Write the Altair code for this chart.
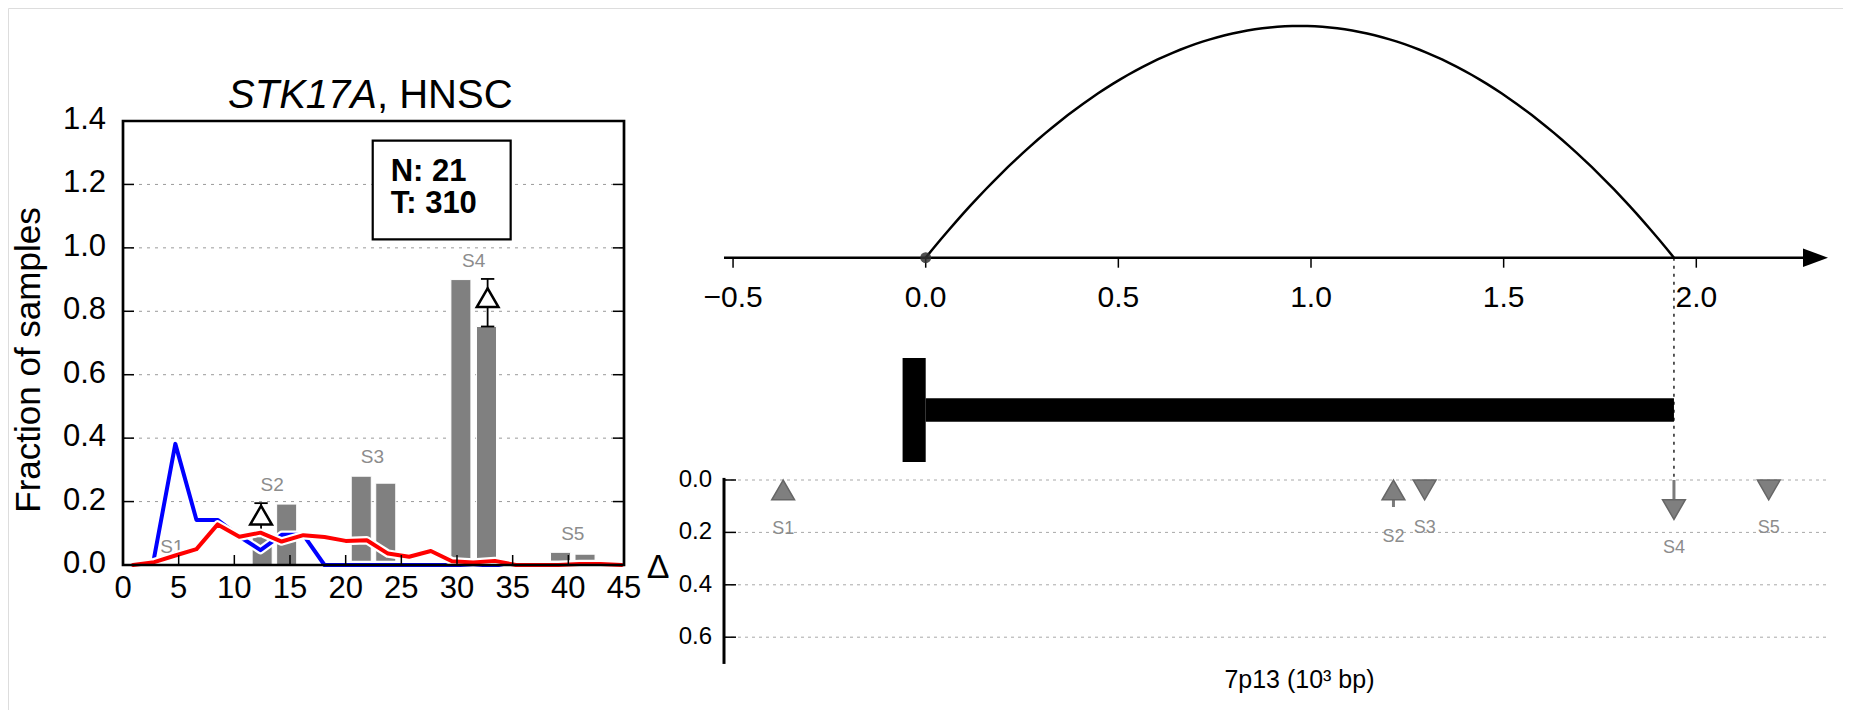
import altair as alt
import pandas as pd

FONT = "Liberation Sans"

# ---------------- left panel: STK17A, HNSC ----------------
LINE_X = [0.9, 2.8, 4.7, 6.6, 8.5, 10.45, 12.35, 14.25, 16.2, 18.1, 20.0, 21.9,
          23.8, 25.7, 27.65, 29.55, 31.45, 33.4, 35.3, 37.2, 39.1, 41.0, 42.9, 44.8]
RED_Y = [0.0, 0.009, 0.03, 0.05, 0.128, 0.089, 0.102, 0.074, 0.094, 0.088, 0.076, 0.078,
         0.036, 0.026, 0.044, 0.012, 0.008, 0.013, 0.0, 0.0, 0.0, 0.003, 0.003, 0.0]
BLUE_X = [2.8, 4.7, 6.6, 8.5, 10.45, 12.35, 14.25, 16.2, 18.1, 20.0, 21.9,
          23.8, 25.7, 27.65, 29.55, 31.45, 33.4, 35.3, 37.2, 39.1, 41.0, 42.9, 44.8]
BLUE_Y = [0.024, 0.382, 0.142, 0.142, 0.09, 0.047, 0.095, 0.095, 0.0, 0.0, 0.0,
          0.0, 0.0, 0.0, 0.0, 0.0, 0.0, 0.0, 0.0, 0.0, 0.0, 0.0, 0.0]
BAR_X = [12.5, 14.7, 21.4, 23.6, 30.35, 32.65, 39.3, 41.5]
BAR_Y = [0.09, 0.192, 0.28, 0.258, 0.90, 0.752, 0.04, 0.034]
BAR_W = 1.8
SEG_NAMES = ["S1", "S2", "S3", "S4", "S5"]
SEG_LABEL_X = [4.4, 13.4, 22.4, 31.5, 40.4]
SEG_LABEL_Y = [0.058, 0.252, 0.339, 0.96, 0.098]
DELTA_MARK_X = [12.4, 32.75]
DELTA_MARK_Y = [0.157, 0.843]
DELTA_ERR_LO = [0.09, 0.752]
DELTA_ERR_HI = [0.195, 0.902]
LEFT_X_TICKS = [0, 5, 10, 15, 20, 25, 30, 35, 40, 45]
LEFT_X_LABELS = ["0", "5", "10", "15", "20", "25", "30", "35", "40", "45"]
LEFT_Y_TICKS = [0.0, 0.2, 0.4, 0.6, 0.8, 1.0, 1.2, 1.4]
LEFT_Y_LABELS = ["0.0", "0.2", "0.4", "0.6", "0.8", "1.0", "1.2", "1.4"]
COUNT_LINES = ["N: 21", "T: 310"]
COUNT_BOX = {"x0": 22.43, "x1": 34.82, "y0": 1.027, "y1": 1.338}

# ---------------- right panel ----------------
TOP_X_TICKS = [-0.5, 0.0, 0.5, 1.0, 1.5, 2.0]
TOP_X_LABELS = ["\u22120.5", "0.0", "0.5", "1.0", "1.5", "2.0"]
DELTA_TICKS = [0.0, 0.2, 0.4, 0.6]
DELTA_LABELS = ["0.0", "0.2", "0.4", "0.6"]
ARC_START, ARC_END = 0.0, 1.942
GENE_START, GENE_END = 0.0, 1.942
TSS_W = 0.06
ARROW_NAMES = ["S1", "S2", "S3", "S4", "S5"]
ARROW_X = [-0.37, 1.214, 1.295, 1.942, 2.188]
ARROW_SHAPE = ["triangle-up", "triangle-up", "triangle-down", "triangle-down", "triangle-down"]
ARROW_HEAD_Y = [0.038, 0.038, 0.038, 0.113, 0.038]
ARROW_LABEL_Y = [0.187, 0.219, 0.185, 0.26, 0.183]
STEM_X = [1.214, 1.942]
STEM_Y0 = [0.07, 0.0]
STEM_Y1 = [0.103, 0.075]

# ---------------- scales (pixel ranges inside one 1835x702 view) ----------------
XL = alt.Scale(domain=[0, 45], range=[115, 616], nice=False, zero=False)
YF = alt.Scale(domain=[0, 1.4], range=[557, 113], nice=False, zero=False)
K_MIN, K_MAX = -0.5235, 2.347
ARROW_TIP_C = 2.3094
XK = alt.Scale(domain=[K_MIN, K_MAX], range=[716, 1822], nice=False, zero=False)
YH = alt.Scale(domain=[0, 1], range=[249.7, 18], nice=False, zero=False)
YG = alt.Scale(domain=[-2, 2], range=[454, 350], nice=False, zero=False)
YD = alt.Scale(domain=[0, 0.7], range=[472, 655.4], nice=False, zero=False)

TICK_Y_LEN = 10 * 1.4 / 444
TICK_X_LEN = 11 * 45 / 501
TOP_TICK_LEN = 10 / 231.7


def X(f, s):
    return alt.X(f, scale=s, axis=None)


def Y(f, s):
    return alt.Y(f, scale=s, axis=None)


# ======================= LEFT =======================
grid_left = alt.Chart(pd.DataFrame({"y": LEFT_Y_TICKS[1:-1], "x0": 0, "x1": 45})).mark_rule(
    color="#9a9a9a", strokeWidth=1, strokeDash=[3, 5]
).encode(x=X("x0:Q", XL), x2="x1:Q", y=Y("y:Q", YF))

bars = alt.Chart(pd.DataFrame({"bx": BAR_X, "by": BAR_Y})).transform_calculate(
    bl=f"datum.bx - {BAR_W / 2}", br=f"datum.bx + {BAR_W / 2}", b0="0"
).mark_rect(color="#808080", stroke="white", strokeWidth=1).encode(
    x=X("bl:Q", XL), x2="br:Q", y=Y("b0:Q", YF), y2="by:Q"
)

err_df = pd.DataFrame({"x": DELTA_MARK_X, "lo": DELTA_ERR_LO, "hi": DELTA_ERR_HI, "my": DELTA_MARK_Y})
err_v = alt.Chart(err_df).mark_rule(color="black", strokeWidth=1.8).encode(
    x=X("x:Q", XL), y=Y("lo:Q", YF), y2="hi:Q"
)
caps = alt.Chart(pd.DataFrame({"x": DELTA_MARK_X * 2, "y": DELTA_ERR_LO + DELTA_ERR_HI})).transform_calculate(
    c0="datum.x - 0.6", c1="datum.x + 0.6"
).mark_rule(color="black", strokeWidth=1.8).encode(x=X("c0:Q", XL), x2="c1:Q", y=Y("y:Q", YF))

seg_labels = alt.Chart(pd.DataFrame({"n": SEG_NAMES, "x": SEG_LABEL_X, "y": SEG_LABEL_Y})).mark_text(
    font=FONT, fontSize=19, color="#8c8c8c", baseline="middle", align="center"
).encode(x=X("x:Q", XL), y=Y("y:Q", YF), text="n:N")

blue_df = pd.DataFrame({"x": BLUE_X, "y": BLUE_Y})
red_df = pd.DataFrame({"x": LINE_X, "y": RED_Y})


def line_layer(df, color, width):
    return alt.Chart(df).mark_line(color=color, strokeWidth=width, strokeJoin="round",
                                   strokeCap="round").encode(x=X("x:Q", XL), y=Y("y:Q", YF))


blue_w = line_layer(blue_df, "white", 8.5)
blue_l = line_layer(blue_df, "#0000ff", 4)
red_w = line_layer(red_df, "white", 8.5)
red_l = line_layer(red_df, "#ff0000", 4)

delta_marks = alt.Chart(err_df).mark_point(
    shape="triangle-up", size=470, filled=True, fill="white", stroke="black",
    strokeWidth=2.5, opacity=1
).encode(x=X("x:Q", XL), y=Y("my:Q", YF))

box = alt.Chart(pd.DataFrame([COUNT_BOX])).mark_rect(
    fill="white", stroke="black", strokeWidth=2.2
).encode(x=X("x0:Q", XL), x2="x1:Q", y=Y("y0:Q", YF), y2="y1:Q")
box_n = alt.Chart(pd.DataFrame({"t": [COUNT_LINES[0]]})).mark_text(
    font=FONT, fontSize=31, fontWeight="bold", align="left", baseline="alphabetic", color="black"
).encode(x=alt.value(382.7), y=alt.value(173), text="t:N")
box_t = alt.Chart(pd.DataFrame({"t": [COUNT_LINES[1]]})).mark_text(
    font=FONT, fontSize=31, fontWeight="bold", align="left", baseline="alphabetic", color="black"
).encode(x=alt.value(382.7), y=alt.value(204.7), text="t:N")

xticks_left = alt.Chart(pd.DataFrame({"x": LEFT_X_TICKS[1:-1], "y0": 0.0, "y1": TICK_Y_LEN})).mark_rule(
    color="black", strokeWidth=1.5
).encode(x=X("x:Q", XL), y=Y("y0:Q", YF), y2="y1:Q")
yt_df = pd.DataFrame({"y": LEFT_Y_TICKS[1:-1] * 2,
                      "x0": [0.0] * 6 + [45 - TICK_X_LEN] * 6,
                      "x1": [TICK_X_LEN] * 6 + [45.0] * 6})
yticks_left = alt.Chart(yt_df).mark_rule(color="black", strokeWidth=1.5).encode(
    x=X("x0:Q", XL), x2="x1:Q", y=Y("y:Q", YF)
)

frame = alt.Chart(pd.DataFrame({"x0": [0], "x1": [45], "y0": [0.0], "y1": [1.4]})).mark_rect(
    fillOpacity=0, stroke="black", strokeWidth=2.7
).encode(x=X("x0:Q", XL), x2="x1:Q", y=Y("y0:Q", YF), y2="y1:Q")

xlabels_left = alt.Chart(pd.DataFrame({"x": LEFT_X_TICKS, "t": LEFT_X_LABELS, "y": 0.0})).mark_text(
    font=FONT, fontSize=31, align="center", baseline="top", dy=9, color="black"
).encode(x=X("x:Q", XL), y=Y("y:Q", YF), text="t:N")
ylabels_left = alt.Chart(pd.DataFrame({"y": LEFT_Y_TICKS, "t": LEFT_Y_LABELS, "x": 0.0})).mark_text(
    font=FONT, fontSize=31, align="right", baseline="middle", dx=-17, dy=-1, color="black"
).encode(x=X("x:Q", XL), y=Y("y:Q", YF), text="t:N")

title_a = alt.Chart(pd.DataFrame({"t": ["STK17A"]})).mark_text(
    font=FONT, fontSize=40, fontStyle="italic", align="right", baseline="alphabetic", color="black"
).encode(x=alt.value(369), y=alt.value(99.7), text="t:N")
title_b = alt.Chart(pd.DataFrame({"t": [", HNSC"]})).mark_text(
    font=FONT, fontSize=40, align="left", baseline="alphabetic", color="black"
).encode(x=alt.value(369), y=alt.value(99.7), text="t:N")
ytitle = alt.Chart(pd.DataFrame({"t": ["Fraction of samples"]})).mark_text(
    font=FONT, fontSize=35, angle=270, align="center", baseline="alphabetic", color="black"
).encode(x=alt.value(32), y=alt.value(352), text="t:N")

left = alt.layer(
    grid_left, bars, err_v, caps, seg_labels, blue_w, blue_l, red_w, red_l,
    delta_marks, box, box_n, box_t, xticks_left, yticks_left, frame,
    xlabels_left, ylabels_left, title_a, title_b, ytitle,
)

# ======================= RIGHT =======================
arc = alt.Chart(alt.sequence(0, 1.0001, 0.01, as_="t")).transform_calculate(
    ax=f"{ARC_START} + datum.t * ({ARC_END - ARC_START})",
    ah="4 * datum.t * (1 - datum.t)",
).mark_line(color="black", strokeWidth=2.5).encode(
    x=X("ax:Q", XK), y=Y("ah:Q", YH), order="t:Q"
)
axis_line = alt.Chart(pd.DataFrame({"x0": [K_MIN], "x1": [ARROW_TIP_C], "y": [0.0]})).mark_rule(
    color="black", strokeWidth=2.5
).encode(x=X("x0:Q", XK), x2="x1:Q", y=Y("y:Q", YH))
top_ticks = alt.Chart(pd.DataFrame({"x": TOP_X_TICKS, "y0": 0.0, "y1": -TOP_TICK_LEN})).mark_rule(
    color="black", strokeWidth=1.5
).encode(x=X("x:Q", XK), y=Y("y0:Q", YH), y2="y1:Q")
top_labels = alt.Chart(pd.DataFrame({"x": TOP_X_TICKS, "t": TOP_X_LABELS, "y": 0.0})).mark_text(
    font=FONT, fontSize=30, align="center", baseline="top", dy=25, color="black"
).encode(x=X("x:Q", XK), y=Y("y:Q", YH), text="t:N")
arrow_head = alt.Chart(pd.DataFrame({"x": [ARROW_TIP_C], "y": [0.0]})).mark_point(
    shape="M1,0L-1,-0.736L-1,0.736Z", size=625, filled=True, color="black", opacity=1
).encode(x=X("x:Q", XK), y=Y("y:Q", YH))
origin_pt = alt.Chart(pd.DataFrame({"x": [ARC_START], "y": [0.0]})).mark_circle(
    size=120, color="#333333", opacity=0.85
).encode(x=X("x:Q", XK), y=Y("y:Q", YH))
arc_group = alt.layer(arc, axis_line, top_ticks, top_labels, arrow_head, origin_pt)

gene_df = pd.DataFrame({"x0": [GENE_START, GENE_START - TSS_W], "x1": [GENE_END, GENE_START],
                        "y0": [-0.45, -2.0], "y1": [0.45, 2.0]})
gene = alt.Chart(gene_df).mark_rect(color="black").encode(
    x=X("x0:Q", XK), x2="x1:Q", y=Y("y0:Q", YG), y2="y1:Q"
)
gene_group = alt.layer(gene)

dgrid = alt.Chart(pd.DataFrame({"y": DELTA_TICKS, "x0": K_MIN, "x1": K_MAX})).mark_rule(
    color="#a8a8a8", strokeWidth=1, strokeDash=[3, 4]
).encode(x=X("x0:Q", XK), x2="x1:Q", y=Y("y:Q", YD))
daxis = alt.Chart(pd.DataFrame({"x": [K_MIN], "y0": [-0.008], "y1": [0.702]})).mark_rule(
    color="black", strokeWidth=3
).encode(x=X("x:Q", XK), y=Y("y0:Q", YD), y2="y1:Q")
dticks = alt.Chart(pd.DataFrame({"y": DELTA_TICKS, "x0": K_MIN, "x1": K_MIN + 12 / 385.3})).mark_rule(
    color="black", strokeWidth=1.5
).encode(x=X("x0:Q", XK), x2="x1:Q", y=Y("y:Q", YD))
dlabels = alt.Chart(pd.DataFrame({"y": DELTA_TICKS, "t": DELTA_LABELS, "x": K_MIN})).mark_text(
    font=FONT, fontSize=24, align="right", baseline="middle", dx=-12, color="black"
).encode(x=X("x:Q", XK), y=Y("y:Q", YD), text="t:N")
connector = alt.Chart(pd.DataFrame({"x": [GENE_END], "y0": [-0.848], "y1": [0.0]})).mark_rule(
    color="black", strokeWidth=1.3, strokeDash=[3, 5]
).encode(x=X("x:Q", XK), y=Y("y0:Q", YD), y2="y1:Q")
stems = alt.Chart(pd.DataFrame({"x": STEM_X, "y0": STEM_Y0, "y1": STEM_Y1})).mark_rule(
    color="#7a7a7a", strokeWidth=3
).encode(x=X("x:Q", XK), y=Y("y0:Q", YD), y2="y1:Q")
arrows_df = pd.DataFrame({"n": ARROW_NAMES, "x": ARROW_X, "shape": ARROW_SHAPE,
                          "hy": ARROW_HEAD_Y, "ly": ARROW_LABEL_Y})
heads = alt.Chart(arrows_df).mark_point(
    size=520, filled=True, fill="#7f7f7f", stroke="#666666", strokeWidth=1.5, opacity=1
).encode(x=X("x:Q", XK), y=Y("hy:Q", YD), shape=alt.Shape("shape:N", scale=None))
alabels = alt.Chart(arrows_df).mark_text(
    font=FONT, fontSize=18, color="#8c8c8c", baseline="middle", align="center"
).encode(x=X("x:Q", XK), y=Y("ly:Q", YD), text="n:N")
delta_title = alt.Chart(pd.DataFrame({"t": ["\u0394"]})).mark_text(
    font=FONT, fontSize=34, align="center", baseline="middle", color="black"
).encode(x=alt.value(650), y=alt.value(560), text="t:N")
xtitle = alt.Chart(pd.DataFrame({"t": ["7p13 (10\u00b3 bp)"], "x": [0.97]})).mark_text(
    font=FONT, fontSize=25, align="center", baseline="middle", color="black"
).encode(x=X("x:Q", XK), y=alt.value(672), text="t:N")

delta_group = alt.layer(dgrid, daxis, dticks, dlabels, connector, stems, heads, alabels,
                        delta_title, xtitle)

right = alt.layer(arc_group, gene_group, delta_group).resolve_scale(y="independent")

chart = alt.layer(left, right).resolve_scale(
    x="independent", y="independent"
).properties(
    width=1835, height=702,
    autosize=alt.AutoSizeParams(type="none"),
    padding=0,
).configure_view(stroke=None).configure(font=FONT)

chart.save("out.html", embed_options={"renderer": "svg", "actions": False})
